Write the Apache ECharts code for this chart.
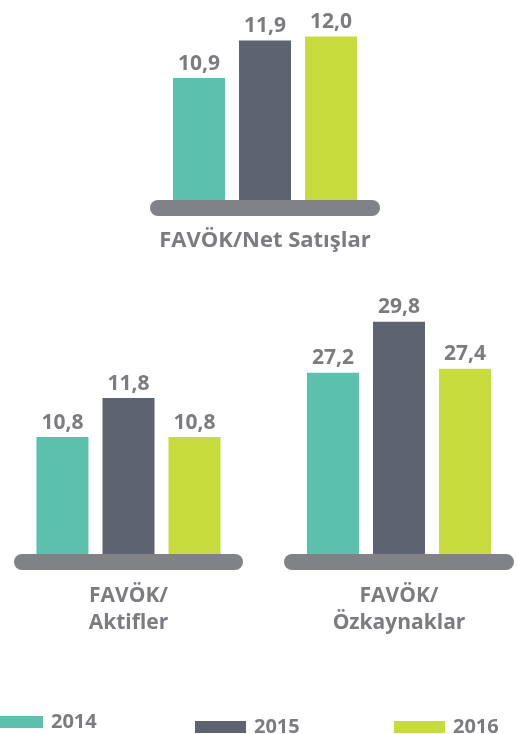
<!DOCTYPE html>
<html>
<head>
<meta charset="utf-8">
<script src="https://cdn.jsdelivr.net/npm/echarts@6/dist/echarts.min.js"></script>
<style>
  html, body { margin: 0; padding: 0; background: #ffffff; }
  #chart { width: 517px; height: 734px; }
</style>
</head>
<body>
<div id="chart"></div>
<script>
// Ratios per panel, one value per year
const years = ['2014', '2015', '2016'];
const panelNames = ['FAVÖK/Net Satışlar', 'FAVÖK/\nAktifler', 'FAVÖK/\nÖzkaynaklar'];
const netSatislar = [10.9, 11.9, 12.0];
const aktifler = [10.8, 11.8, 10.8];
const ozkaynaklar = [27.2, 29.8, 27.4];

const panelValues = [netSatislar, aktifler, ozkaynaklar];
const yearColors = ['#5bc1ad', '#5d6470', '#c8db3d'];
const textGray = '#7b7c80';
const fontFamily = '"Open Sans", Lato, sans-serif';

// Layout of the three small bar panels (pixel boxes) and their value ranges
const panels = [
  { left: 158, width: 214, top: 20, bottom: 534, min: 7.67, max: 12.44, labelMargin: 19, labelSize: 22 },
  { left: 22, width: 213, top: 354, bottom: 180, min: 7.8, max: 12.93, labelMargin: 21, labelSize: 21 },
  { left: 292, width: 214, top: 300, bottom: 180, min: 17.95, max: 30.91, labelMargin: 21, labelSize: 21 }
];

const grid = panels.map(p => ({ left: p.left, width: p.width, top: p.top, bottom: p.bottom }));

const xAxis = panels.map((p, i) => ({
  type: 'category',
  gridIndex: i,
  data: [panelNames[i]],
  offset: 8,
  axisLine: { show: true, lineStyle: { color: '#818285', width: 16, cap: 'round' } },
  axisTick: { show: false },
  axisLabel: {
    show: true,
    margin: p.labelMargin,
    color: textGray,
    fontFamily: fontFamily,
    fontWeight: 'bold',
    fontSize: p.labelSize,
    lineHeight: 27
  }
}));

const yAxis = panels.map((p, i) => ({
  type: 'value',
  gridIndex: i,
  min: p.min,
  max: p.max,
  show: false,
  splitLine: { show: false }
}));

const series = [];
panels.forEach((p, gi) => {
  years.forEach((y, yi) => {
    series.push({
      name: y,
      type: 'bar',
      xAxisIndex: gi,
      yAxisIndex: gi,
      barWidth: 52,
      barGap: '27%',
      data: [panelValues[gi][yi]],
      itemStyle: { color: yearColors[yi] },
      label: {
        show: true,
        position: 'top',
        distance: 4,
        color: textGray,
        fontFamily: fontFamily,
        fontWeight: 'bold',
        fontSize: 21,
        formatter: d => d.value.toFixed(1).replace('.', ',')
      }
    });
  });
});

// One legend block per year, staggered along the bottom
const legendSpots = [
  { left: -13, top: 707 },
  { left: 190, top: 712 },
  { left: 389, top: 712 }
];
const legend = years.map((y, i) => ({
  data: [y],
  left: legendSpots[i].left,
  top: legendSpots[i].top,
  icon: 'rect',
  itemWidth: 51,
  itemHeight: 12,
  selectedMode: false,
  textStyle: {
    color: textGray,
    fontFamily: fontFamily,
    fontWeight: 'bold',
    fontSize: 20,
    padding: [0, 0, 0, 3]
  }
}));

const chart = echarts.init(document.getElementById('chart'), null, { renderer: 'canvas' });
chart.setOption({
  animation: false,
  backgroundColor: '#ffffff',
  grid: grid,
  xAxis: xAxis,
  yAxis: yAxis,
  legend: legend,
  series: series
});
</script>
</body>
</html>
